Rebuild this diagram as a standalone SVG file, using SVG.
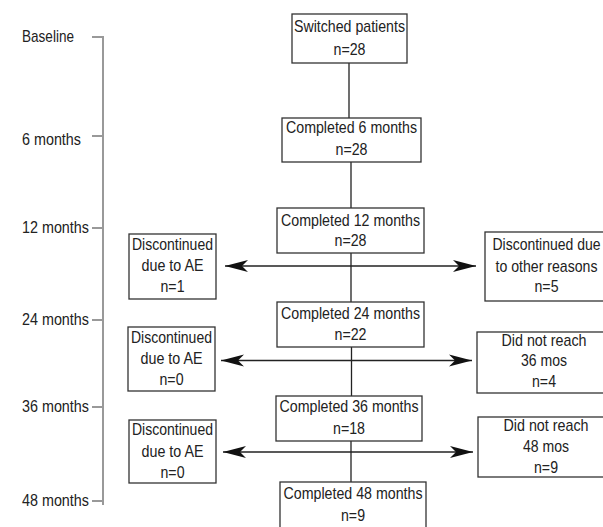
<svg xmlns="http://www.w3.org/2000/svg" width="603" height="527" viewBox="0 0 603 527">
<style>
text{font-family:"Liberation Sans",Arial,sans-serif;font-size:17px;fill:#222;}
.c{text-anchor:middle;}
.box{fill:#fff;stroke:#333;stroke-width:1.3;}
.ln{stroke:#222;stroke-width:1.3;fill:none;}
.tl{stroke:#999;stroke-width:2;fill:none;}
</style>
<defs>
<marker id="ah" markerUnits="userSpaceOnUse" viewBox="-24 -7 25 14" refX="0" refY="0" markerWidth="25" markerHeight="14" orient="auto-start-reverse">
<path d="M0,0 L-23,-6 Q-19,-2 -17,0 Q-19,2 -23,6 Z" fill="#111"/>
</marker>
</defs>
<g id="timeline">
<path class="tl" d="M103,36 V505 M92,37 H103 M92,136 H103 M92,228 H103 M92,320 H103 M92,407 H103 M92,501 H103"/>
<text x="22" y="42" textLength="52" lengthAdjust="spacingAndGlyphs">Baseline</text>
<text x="22" y="145" textLength="59" lengthAdjust="spacingAndGlyphs">6 months</text>
<text x="22" y="233" textLength="67" lengthAdjust="spacingAndGlyphs">12 months</text>
<text x="22" y="325" textLength="67" lengthAdjust="spacingAndGlyphs">24 months</text>
<text x="22" y="412" textLength="67" lengthAdjust="spacingAndGlyphs">36 months</text>
<text x="22" y="506" textLength="67" lengthAdjust="spacingAndGlyphs">48 months</text>
</g>
<g id="connectors">
<path class="ln" d="M349,63 V118 M351,162 V208 M351,253 V302 M351.5,347 V396 M351,441 V482"/>
<path class="ln" d="M225,266 H476" marker-start="url(#ah)" marker-end="url(#ah)"/>
<path class="ln" d="M221,360.5 H472" marker-start="url(#ah)" marker-end="url(#ah)"/>
<path class="ln" d="M223,452 H473" marker-start="url(#ah)" marker-end="url(#ah)"/>
</g>
<g id="n0">
<rect class="box" x="292" y="14" width="115" height="49"/>
<text class="c" x="349.5" y="32" textLength="111" lengthAdjust="spacingAndGlyphs">Switched patients</text>
<text class="c" x="349.5" y="55" textLength="32" lengthAdjust="spacingAndGlyphs">n=28</text>
</g>
<g id="n6">
<rect class="box" x="282" y="118" width="139" height="44"/>
<text class="c" x="351.5" y="133" textLength="131" lengthAdjust="spacingAndGlyphs">Completed 6 months</text>
<text class="c" x="351.5" y="155" textLength="32" lengthAdjust="spacingAndGlyphs">n=28</text>
</g>
<g id="n12">
<rect class="box" x="277" y="208" width="147" height="45"/>
<text class="c" x="350.5" y="226" textLength="139" lengthAdjust="spacingAndGlyphs">Completed 12 months</text>
<text class="c" x="350.5" y="246" textLength="32" lengthAdjust="spacingAndGlyphs">n=28</text>
</g>
<g id="n24">
<rect class="box" x="277" y="302" width="147" height="45"/>
<text class="c" x="350.5" y="319" textLength="139" lengthAdjust="spacingAndGlyphs">Completed 24 months</text>
<text class="c" x="350.5" y="340" textLength="32" lengthAdjust="spacingAndGlyphs">n=22</text>
</g>
<g id="n36">
<rect class="box" x="276" y="396" width="146" height="45"/>
<text class="c" x="349" y="412" textLength="139" lengthAdjust="spacingAndGlyphs">Completed 36 months</text>
<text class="c" x="349" y="434" textLength="32" lengthAdjust="spacingAndGlyphs">n=18</text>
</g>
<g id="n48">
<rect class="box" x="280" y="482" width="146" height="55"/>
<text class="c" x="353" y="499" textLength="139" lengthAdjust="spacingAndGlyphs">Completed 48 months</text>
<text class="c" x="353" y="521" textLength="24" lengthAdjust="spacingAndGlyphs">n=9</text>
</g>
<g id="l12">
<rect class="box" x="129" y="234" width="87" height="65"/>
<text class="c" x="172.5" y="250" textLength="81" lengthAdjust="spacingAndGlyphs">Discontinued</text>
<text class="c" x="172.5" y="271" textLength="62" lengthAdjust="spacingAndGlyphs">due to AE</text>
<text class="c" x="172.5" y="292" textLength="24" lengthAdjust="spacingAndGlyphs">n=1</text>
</g>
<g id="l24">
<rect class="box" x="128" y="327" width="87" height="64"/>
<text class="c" x="171.5" y="343" textLength="81" lengthAdjust="spacingAndGlyphs">Discontinued</text>
<text class="c" x="171.5" y="364" textLength="62" lengthAdjust="spacingAndGlyphs">due to AE</text>
<text class="c" x="171.5" y="385" textLength="24" lengthAdjust="spacingAndGlyphs">n=0</text>
</g>
<g id="l36">
<rect class="box" x="129" y="420" width="87" height="63"/>
<text class="c" x="172.5" y="435" textLength="81" lengthAdjust="spacingAndGlyphs">Discontinued</text>
<text class="c" x="172.5" y="456.5" textLength="62" lengthAdjust="spacingAndGlyphs">due to AE</text>
<text class="c" x="172.5" y="477.5" textLength="24" lengthAdjust="spacingAndGlyphs">n=0</text>
</g>
<g id="r12">
<rect class="box" x="485" y="232" width="130" height="69"/>
<text class="c" x="546.5" y="250" textLength="108" lengthAdjust="spacingAndGlyphs">Discontinued due</text>
<text class="c" x="546.5" y="271.5" textLength="102" lengthAdjust="spacingAndGlyphs">to other reasons</text>
<text class="c" x="546.5" y="292" textLength="24" lengthAdjust="spacingAndGlyphs">n=5</text>
</g>
<g id="r24">
<rect class="box" x="477" y="332" width="140" height="61"/>
<text class="c" x="544" y="345.5" textLength="85" lengthAdjust="spacingAndGlyphs">Did not reach</text>
<text class="c" x="544" y="366" textLength="46" lengthAdjust="spacingAndGlyphs">36 mos</text>
<text class="c" x="544" y="386.5" textLength="24" lengthAdjust="spacingAndGlyphs">n=4</text>
</g>
<g id="r36">
<rect class="box" x="478" y="417" width="140" height="60"/>
<text class="c" x="546" y="431" textLength="85" lengthAdjust="spacingAndGlyphs">Did not reach</text>
<text class="c" x="546" y="452" textLength="46" lengthAdjust="spacingAndGlyphs">48 mos</text>
<text class="c" x="546" y="472.5" textLength="24" lengthAdjust="spacingAndGlyphs">n=9</text>
</g>
</svg>
